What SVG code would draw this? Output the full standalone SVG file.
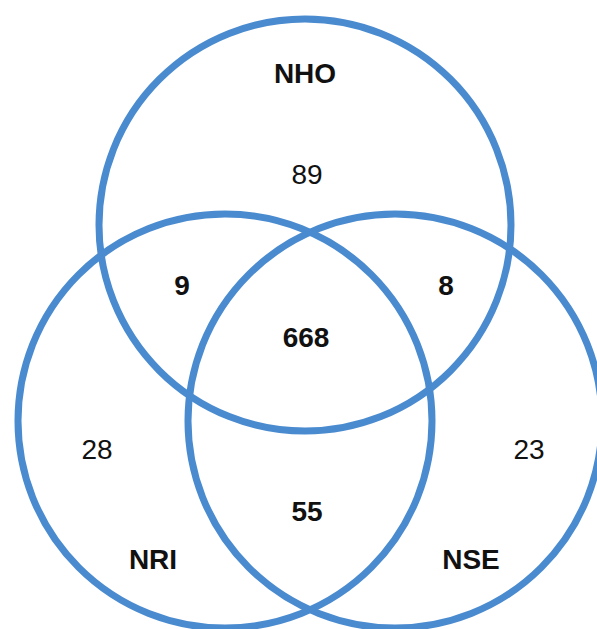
<svg xmlns="http://www.w3.org/2000/svg" width="597" height="629" viewBox="0 0 597 629">
<style>
.c{fill:none;stroke:#4a8bd0;stroke-width:7}
.t{font-family:"Liberation Sans",Arial,sans-serif;font-size:28px;fill:#111;text-anchor:middle}
.b{font-weight:bold}
</style>
<rect width="597" height="629" fill="#fff"/>
<g id="connectors"></g>
<g id="NHO"><circle class="c" cx="305" cy="225" r="206"/><text class="t b" x="305" y="83">NHO</text><text class="t" x="307" y="184">89</text></g>
<g id="NRI"><circle class="c" cx="225" cy="421" r="207"/><text class="t b" x="153" y="569">NRI</text><text class="t" x="97" y="459">28</text></g>
<g id="NSE"><circle class="c" cx="395" cy="421" r="207"/><text class="t b" x="471" y="569">NSE</text><text class="t" x="529" y="459">23</text></g>
<g id="NHO_NRI"><text class="t b" x="182" y="295">9</text></g>
<g id="NHO_NSE"><text class="t b" x="446" y="295">8</text></g>
<g id="ALL"><text class="t b" x="306" y="347">668</text></g>
<g id="NRI_NSE"><text class="t b" x="307" y="521">55</text></g>
</svg>
